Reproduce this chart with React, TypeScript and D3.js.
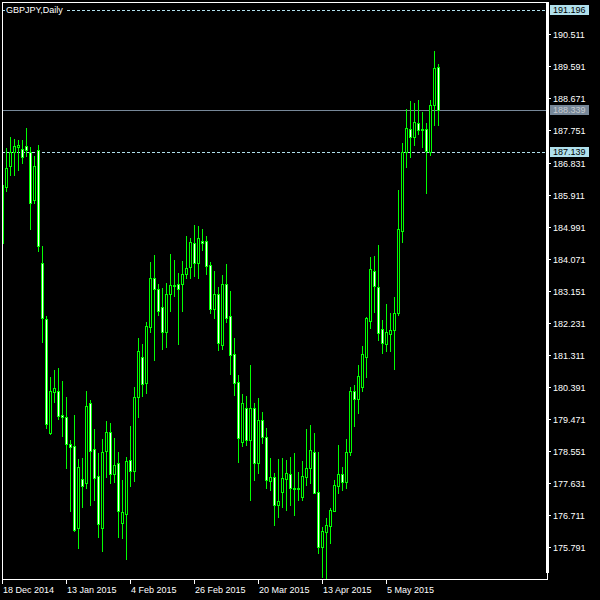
import React from "react";
import * as d3 from "d3";

// Daily GBPJPY candles, 18 Dec 2014 .. mid May 2015
const opens = [
  184.52, 186.14, 186.74, 187.14, 187.29, 187.22, 187.31, 187.14, 185.76, 187.19,
  183.94, 182.34, 179.06, 180.26, 180.28, 179.59, 179.52, 178.75, 178.70, 176.34,
  177.75, 177.63, 179.92, 178.60, 177.84, 176.34, 178.56, 179.09, 177.89, 178.20,
  176.48, 176.74, 178.29, 177.99, 180.10, 181.25, 180.50, 182.12, 183.52, 183.20,
  182.69, 181.98, 183.05, 183.32, 183.35, 183.34, 183.62, 183.83, 184.52, 183.94,
  184.58, 184.58, 183.89, 182.64, 183.06, 181.60, 183.35, 182.43, 181.34, 180.53,
  178.82, 179.78, 178.87, 179.79, 178.20, 179.44, 178.96, 177.70, 177.80, 177.00,
  177.39, 177.76, 177.89, 177.49, 177.47, 177.24, 177.82, 178.06, 178.53, 177.37,
  175.81, 176.24, 176.41, 176.84, 177.56, 177.89, 177.67, 178.53, 180.28, 180.05,
  180.38, 181.24, 182.29, 183.72, 183.25, 182.05, 181.62, 181.90, 182.03, 182.51,
  184.88, 187.14, 187.79, 187.57, 187.96, 187.77, 187.79, 187.14, 188.47, 189.56,
];
const highs = [
  186.22, 187.24, 187.57, 187.51, 187.48, 187.48, 187.82, 187.29, 187.03, 187.33,
  184.44, 182.43, 180.69, 180.88, 180.94, 180.56, 180.11, 178.87, 179.59, 178.32,
  178.35, 180.28, 180.02, 179.19, 178.49, 178.90, 179.41, 179.36, 178.94, 178.53,
  177.72, 178.39, 179.27, 180.39, 181.80, 181.62, 182.26, 183.98, 184.18, 183.35,
  183.23, 183.38, 184.21, 184.04, 183.65, 184.01, 184.72, 184.67, 185.04, 185.01,
  184.92, 184.72, 183.98, 183.72, 183.26, 183.60, 183.92, 183.15, 181.80, 180.74,
  180.19, 180.13, 181.02, 179.93, 180.07, 179.68, 179.21, 178.34, 177.91, 178.32,
  178.34, 178.30, 178.39, 178.49, 177.96, 178.28, 179.19, 179.30, 179.06, 178.53,
  176.38, 176.62, 176.91, 177.72, 178.73, 178.10, 178.89, 180.39, 180.45, 181.02,
  181.57, 182.41, 184.13, 184.15, 184.47, 182.31, 182.77, 182.52, 182.97, 186.04,
  187.38, 188.36, 188.60, 188.53, 188.63, 188.28, 187.96, 188.63, 190.03, 189.66,
];
const lows = [
  184.45, 186.02, 186.47, 186.47, 186.62, 186.82, 187.02, 184.92, 185.68, 184.30,
  181.69, 179.22, 179.03, 179.97, 179.46, 178.99, 178.07, 176.83, 176.27, 175.78,
  176.96, 177.48, 177.00, 177.15, 176.10, 175.69, 177.82, 177.63, 177.67, 176.08,
  176.07, 175.46, 177.55, 177.70, 179.54, 180.13, 180.23, 181.98, 181.17, 182.46,
  181.48, 181.55, 182.57, 183.00, 181.62, 182.57, 183.52, 183.52, 183.58, 183.52,
  184.32, 183.63, 182.52, 182.37, 181.45, 181.48, 182.26, 180.77, 180.16, 178.23,
  178.70, 178.73, 177.15, 177.72, 177.91, 178.78, 177.48, 177.44, 176.43, 176.67,
  176.96, 176.86, 177.00, 176.72, 177.15, 177.15, 177.58, 177.63, 177.34, 175.62,
  174.95, 174.90, 175.91, 176.84, 177.34, 177.44, 177.48, 178.44, 179.27, 179.64,
  180.29, 180.67, 182.08, 182.55, 181.74, 181.37, 181.43, 181.43, 180.92, 182.45,
  184.56, 186.71, 187.00, 187.33, 187.65, 187.29, 185.95, 187.05, 187.91, 187.91,
];
const closes = [
  186.19, 186.67, 187.14, 187.31, 187.33, 187.00, 187.19, 185.68, 186.74, 184.45,
  182.36, 179.32, 180.28, 180.35, 179.57, 179.52, 178.75, 178.68, 176.29, 178.09,
  177.56, 179.85, 178.56, 177.77, 176.45, 178.52, 179.09, 177.89, 178.14, 176.83,
  176.80, 178.27, 177.99, 180.10, 181.42, 180.47, 182.14, 183.52, 183.19, 182.56,
  181.98, 183.06, 183.32, 183.30, 183.19, 183.63, 183.81, 184.55, 183.94, 184.67,
  184.53, 183.87, 182.64, 183.06, 181.66, 183.35, 182.38, 181.31, 180.51, 178.92,
  179.92, 178.87, 179.79, 178.20, 179.44, 178.96, 177.72, 177.80, 177.00, 177.12,
  177.77, 177.91, 177.48, 177.46, 177.49, 177.84, 178.06, 178.58, 177.36, 175.81,
  176.26, 176.43, 176.86, 177.58, 177.89, 177.67, 178.53, 180.28, 180.05, 180.71,
  181.34, 182.38, 183.77, 183.30, 181.93, 181.64, 181.96, 182.03, 182.51, 184.92,
  187.14, 187.81, 187.57, 187.99, 187.77, 187.79, 187.17, 188.47, 189.54, 188.339,
];

const dateLabels = ["18 Dec 2014", "13 Jan 2015", "4 Feb 2015", "26 Feb 2015", "20 Mar 2015", "13 Apr 2015", "5 May 2015"];
const dateLabelBars = [0, 16, 32, 48, 64, 80, 96];
const priceTicks = [
  190.511, 189.591, 188.671, 187.751, 186.831, 185.911, 184.991, 184.071, 183.151,
  182.231, 181.311, 180.391, 179.471, 178.551, 177.631, 176.711, 175.791,
];
const levelLines = [191.196, 187.139];
const bidPrice = 188.339;
const title = "GBPJPY,Daily";

const FONT = "'Liberation Sans', Arial, sans-serif";
const GREEN = "#00ff00";
const LIGHTBLUE = "#b0e0ec";
const SLATE = "#778899";

export default function App() {
  const W = 600, H = 600;
  const left = 2, top = 2, right = 547, bottom = 579;
  const n = closes.length;
  const x = d3.scaleLinear().domain([0, n - 1]).range([2.5, 2.5 + 4 * (n - 1)]);
  const y = d3.scaleLinear().domain([175.791, 190.511]).range([547.3, 34.3]);

  const candles = d3.range(n).map((i) => {
    const cx = x(i);
    const o = opens[i], c = closes[i];
    const bull = c >= o;
    const t = Math.round(y(Math.max(o, c)));
    const b = Math.round(y(Math.min(o, c)));
    const yh = Math.round(y(highs[i]));
    const yl = Math.round(y(lows[i]));
    const x0 = cx - 1, x1 = cx + 1;
    const bodyPath = `M${x0},${t + 0.5}H${x1}V${b + 0.5}H${x0}Z`;
    return (
      <g key={i}>
        <line x1={cx} x2={cx} y1={yh} y2={yl + 1} stroke={GREEN} strokeWidth={1} />
        <path d={bodyPath} fill={bull ? "#000" : "#fff"} stroke={GREEN} strokeWidth={1} />
      </g>
    );
  });

  const lblX = 553;
  const fs = 9;

  return (
    <svg
      width={W}
      height={H}
      style={{ position: "absolute", left: 0, top: 0, background: "#000", display: "block" }}
      fontFamily={FONT}
    >
      <rect x={0} y={0} width={W} height={H} fill="#000" />
      <defs>
        <clipPath id="plot">
          <rect x={left + 1} y={top + 1} width={right - left - 1} height={bottom - top - 1} />
        </clipPath>
      </defs>

      {/* level lines */}
      <g shapeRendering="crispEdges">
        {levelLines.map((p, k) => (
          <line
            key={k}
            x1={left}
            x2={right}
            y1={Math.round(y(p)) + 0.5}
            y2={Math.round(y(p)) + 0.5}
            stroke={LIGHTBLUE}
            strokeWidth={1}
            strokeDasharray="3,2"
          />
        ))}
        <line
          x1={left}
          x2={right}
          y1={Math.round(y(bidPrice)) + 0.5}
          y2={Math.round(y(bidPrice)) + 0.5}
          stroke={SLATE}
          strokeWidth={1}
        />
      </g>

      {/* title with black backing */}
      <rect x={5} y={3} width={62} height={12} fill="#000" />
      <text x={6} y={13} fill="#fff" fontSize={fs}>{title}</text>

      {/* candles */}
      <g clipPath="url(#plot)" shapeRendering="crispEdges">{candles}</g>

      {/* frame */}
      <g shapeRendering="crispEdges" fill="#fff">
        <rect x={left} y={top} width={right - left} height={1} />
        <rect x={left} y={top} width={1} height={bottom - top + 1} />
        <rect x={left} y={bottom} width={right - left + 1} height={1} />
        <rect x={546} y={top} width={3} height={573 - top} />
        <rect x={547} y={573} width={1} height={bottom - 573} />
      </g>

      {/* right price axis */}
      <g>
        {priceTicks.map((p, k) => {
          const yy = Math.round(y(p)) + 0.5;
          return (
            <g key={k}>
              <line x1={548} x2={551} y1={yy} y2={yy} stroke="#fff" strokeWidth={1} shapeRendering="crispEdges" />
              <text x={lblX} y={yy + 3.3} fill="#fff" fontSize={fs}>{p.toFixed(3)}</text>
            </g>
          );
        })}
        {levelLines.map((p, k) => {
          const yy = y(p);
          return (
            <g key={k}>
              <rect x={550} y={Math.round(yy) - 5} width={39} height={10} fill={LIGHTBLUE} shapeRendering="crispEdges" />
              <text x={lblX} y={Math.round(yy) + 3.3} fill="#000" fontSize={fs}>{p.toFixed(3)}</text>
            </g>
          );
        })}
        <rect x={550} y={Math.round(y(bidPrice)) - 5} width={39} height={10} fill={SLATE} shapeRendering="crispEdges" />
        <text x={lblX} y={Math.round(y(bidPrice)) + 3.3} fill="#c8ccd0" fontSize={fs}>{bidPrice.toFixed(3)}</text>
      </g>

      {/* bottom time axis */}
      <g>
        {dateLabelBars.map((bi, k) => {
          const xx = Math.floor(x(bi)) + 0.5;
          return (
            <g key={k}>
              <line x1={xx} x2={xx} y1={bottom} y2={bottom + 5} stroke="#fff" strokeWidth={1} shapeRendering="crispEdges" />
              <text x={xx + 0.5} y={592.5} fill="#fff" fontSize={fs}>{dateLabels[k]}</text>
            </g>
          );
        })}
      </g>
    </svg>
  );
}
